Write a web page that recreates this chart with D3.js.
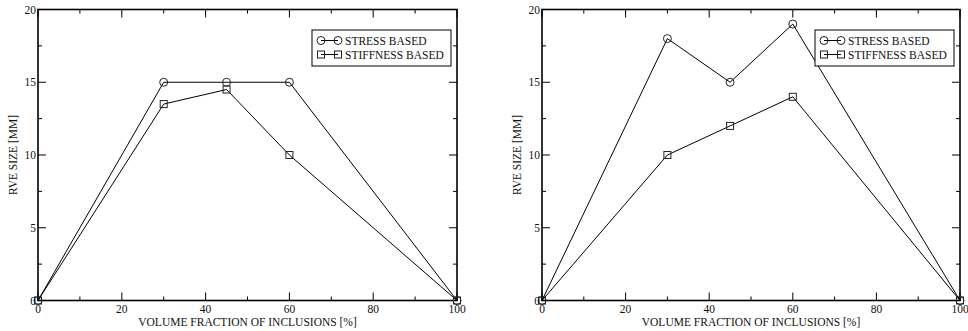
<!DOCTYPE html>
<html>
<head>
<meta charset="utf-8">
<script src="https://cdn.jsdelivr.net/npm/d3@7"></script>
<style>
  body { margin: 0; background: #fff; }
  svg { display: block; }
  svg text { font-family: "Liberation Serif", "Times New Roman", Times, serif; font-size: 11.5px; fill: #111; }
</style>
</head>
<body>
<div class="chart"></div>
<script>
var width = 968,
    height = 331;

// volume fraction of inclusions [%]
let fractions = [0, 30, 45, 60, 100];

// left panel
let leftStress = [0, 15, 15, 15, 0];
let leftStiffness = [0, 13.5, 14.5, 10, 0];

// right panel
let rightStress = [0, 18, 15, 19, 0];
let rightStiffness = [0, 10, 12, 14, 0];

let xTicks = [0, 20, 40, 60, 80, 100];
let yTicks = [0, 5, 10, 15, 20];
let legendNames = ["STRESS BASED", "STIFFNESS BASED"];

let panels = [
    {left: 38, right: 457, stress: leftStress, stiffness: leftStiffness},
    {left: 542, right: 960, stress: rightStress, stiffness: rightStiffness}
];

let plotTop = 9.5, plotBottom = 300.5;

let svg = d3.select(".chart")
    .append("svg")
    .attr("width", width)
    .attr("height", height);

panels.forEach(function(p){

    let x = d3.scaleLinear().domain([0, 100]).range([p.left, p.right]);
    let y = d3.scaleLinear().domain([0, 20]).range([plotBottom, plotTop]);

    let g = svg.append("g");

    // minor + major ticks, all four sides, pointing inwards
    let xMinor = d3.range(0, 101, 10);
    let yMinor = d3.range(0, 20.1, 2.5);

    let ticks = g.append("g").attr("stroke", "#000").attr("stroke-width", 1);

    xMinor.forEach(function(v){
        let len = (v % 20 === 0) ? 8 : 4;
        ticks.append("line").attr("x1", x(v)).attr("x2", x(v))
            .attr("y1", plotBottom).attr("y2", plotBottom - len);
        ticks.append("line").attr("x1", x(v)).attr("x2", x(v))
            .attr("y1", plotTop).attr("y2", plotTop + len);
    });
    yMinor.forEach(function(v){
        let len = (v % 5 === 0) ? 8 : 4;
        ticks.append("line").attr("x1", p.left).attr("x2", p.left + len)
            .attr("y1", y(v)).attr("y2", y(v));
        ticks.append("line").attr("x1", p.right).attr("x2", p.right - len)
            .attr("y1", y(v)).attr("y2", y(v));
    });

    // frame
    g.append("rect")
        .attr("x", p.left)
        .attr("y", plotTop)
        .attr("width", p.right - p.left)
        .attr("height", plotBottom - plotTop)
        .attr("fill", "none")
        .attr("stroke", "#000")
        .attr("stroke-width", 1.6);

    // tick labels
    g.selectAll(".xlab")
        .data(xTicks)
        .join("text")
        .attr("class", "xlab")
        .attr("x", d => x(d))
        .attr("y", 313)
        .attr("text-anchor", "middle")
        .text(d => d);

    g.selectAll(".ylab")
        .data(yTicks)
        .join("text")
        .attr("class", "ylab")
        .attr("x", p.left - 2)
        .attr("y", d => y(d) + 4)
        .attr("text-anchor", "end")
        .text(d => d);

    // axis titles
    g.append("text")
        .attr("x", (p.left + p.right) / 2)
        .attr("y", 326)
        .attr("text-anchor", "middle")
        .text("VOLUME FRACTION OF INCLUSIONS [%]");

    g.append("text")
        .attr("transform", `translate(${p.left - 21}, ${(plotTop + plotBottom) / 2}) rotate(-90)`)
        .attr("text-anchor", "middle")
        .text("RVE SIZE [MM]");

    let line = d3.line()
        .x((d, i) => x(fractions[i]))
        .y(d => y(d));

    [p.stress, p.stiffness].forEach(function(series){
        g.append("path")
            .attr("d", line(series))
            .attr("fill", "none")
            .attr("stroke", "#000")
            .attr("stroke-width", 1);
    });

    g.selectAll(".circ")
        .data(p.stress)
        .join("circle")
        .attr("class", "circ")
        .attr("cx", (d, i) => x(fractions[i]))
        .attr("cy", d => y(d))
        .attr("r", 4)
        .attr("fill", "none")
        .attr("stroke", "#222")
        .attr("stroke-width", 1);

    g.selectAll(".sq")
        .data(p.stiffness)
        .join("rect")
        .attr("class", "sq")
        .attr("x", (d, i) => x(fractions[i]) - 3.5)
        .attr("y", d => y(d) - 3.5)
        .attr("width", 7)
        .attr("height", 7)
        .attr("fill", "none")
        .attr("stroke", "#222")
        .attr("stroke-width", 1);

    // legend
    let lx = p.right - 145, ly = 30;
    let leg = g.append("g");
    leg.append("rect")
        .attr("x", lx)
        .attr("y", ly)
        .attr("width", 139)
        .attr("height", 36)
        .attr("fill", "#fff")
        .attr("stroke", "#000")
        .attr("stroke-width", 1);

    legendNames.forEach(function(name, i){
        let cy = ly + 10.5 + i * 14;
        leg.append("line")
            .attr("x1", lx + 9).attr("x2", lx + 26)
            .attr("y1", cy).attr("y2", cy)
            .attr("stroke", "#000");
        [lx + 9, lx + 26].forEach(function(cx){
            if(i === 0){
                leg.append("circle").attr("cx", cx).attr("cy", cy).attr("r", 4)
                    .attr("fill", "none").attr("stroke", "#222");
            } else {
                leg.append("rect").attr("x", cx - 3.5).attr("y", cy - 3.5)
                    .attr("width", 7).attr("height", 7)
                    .attr("fill", "none").attr("stroke", "#222");
            }
        });
        leg.append("text")
            .attr("x", lx + 33)
            .attr("y", cy + 4)
            .text(name);
    });
});
</script>
</body>
</html>
